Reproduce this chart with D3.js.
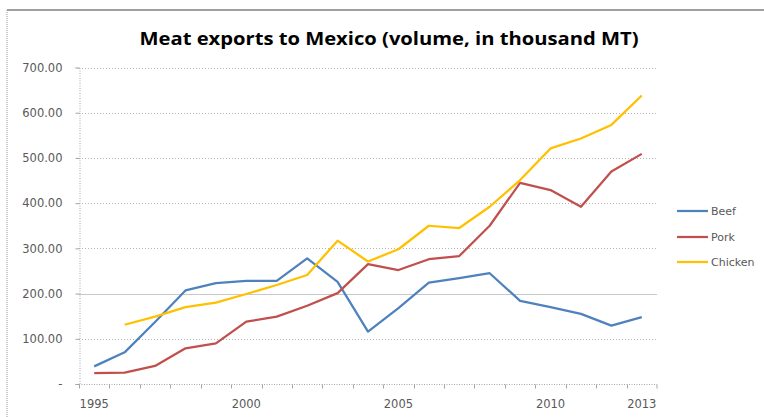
<!DOCTYPE html>
<html>
<head>
<meta charset="utf-8">
<script src="https://cdn.jsdelivr.net/npm/d3@7"></script>
<style>
  body { margin: 0; background: #fff; }
  svg { display: block; }
</style>
</head>
<body>
<div class="div-chart"></div>
<script>
// data (thousand MT)
const years = d3.range(1995, 2014);
const beef = [39, 70, 137, 207, 223, 228, 228, 278, 226, 116, 168, 224, 234, 245, 184, 170, 155, 129, 148];
const pork = [24, 25, 40, 79, 90, 138, 149, 173, 201, 265, 252, 276, 283, 350, 445, 429, 392, 470, 509];
const chicken = [null, 131, 149, 170, 180, 199, 219, 241, 317, 271, 298, 350, 345, 392, 451, 521, 543, 573, 638];
const seriesNames = ['Beef', 'Pork', 'Chicken'];
const seriesColors = ['#4F81BD', '#C0504D', '#FFC000'];
const yTicks = [0, 100, 200, 300, 400, 500, 600, 700];
const xLabels = [1995, 2000, 2005, 2010, 2013];

const width = 764, height = 417;
const svg = d3.select('.div-chart')
    .append('svg')
    .attr('width', width)
    .attr('height', height);

// frame
svg.append('line')
    .attr('x1', 7).attr('x2', width).attr('y1', 10).attr('y2', 10)
    .attr('stroke', '#a0a0a0').attr('stroke-width', 2);
svg.append('line')
    .attr('x1', 7).attr('x2', 7).attr('y1', 10).attr('y2', height)
    .attr('stroke', '#9a9a9a').attr('stroke-width', 1)
    .attr('stroke-dasharray', '1,1');

// title
svg.append('text')
    .attr('x', 389).attr('y', 45)
    .attr('text-anchor', 'middle')
    .attr('font-family', 'Open Sans, sans-serif')
    .attr('font-weight', 'bold')
    .attr('font-size', 18)
    .attr('textLength', 499)
    .attr('lengthAdjust', 'spacingAndGlyphs')
    .attr('fill', '#000')
    .text('Meat exports to Mexico (volume, in thousand MT)');

const xScale = d3.scaleBand()
    .domain(years)
    .range([79, 657]);

const yScale = d3.scaleLinear()
    .domain([0, 700])
    .range([384, 67.5]);

const cx = y => xScale(y) + xScale.bandwidth() / 2;

// gridlines
svg.append('g')
    .selectAll('line')
    .data(yTicks.filter(d => d > 0))
    .join('line')
    .attr('x1', 79).attr('x2', 657)
    .attr('y1', d => Math.round(yScale(d)) + 0.5)
    .attr('y2', d => Math.round(yScale(d)) + 0.5)
    .attr('stroke', d => d === 200 ? '#c8c8c8' : '#b4b4b4')
    .attr('stroke-dasharray', d => d === 200 ? null : '1,2');

// y axis
const yAxis = svg.append('g')
    .attr('transform', 'translate(79.5,0)')
    .call(d3.axisLeft(yScale)
        .tickValues(yTicks)
        .tickSize(4)
        .tickPadding(13)
        .tickFormat(d => d === 0 ? '-' : d3.format('.2f')(d)));
yAxis.select('.domain').attr('stroke', '#a6a6a6').attr('stroke-dasharray', '1,1.5');
yAxis.selectAll('.tick line').attr('stroke', '#a6a6a6');
yAxis.selectAll('text')
    .attr('font-family', 'DejaVu Sans, sans-serif')
    .attr('font-size', 11.5)
    .attr('fill', '#595959');

// x axis: tick marks between categories, labels on a few years
const xAxisG = svg.append('g')
    .attr('transform', 'translate(0,384.5)');
xAxisG.append('line')
    .attr('x1', 79).attr('x2', 657)
    .attr('stroke', '#a6a6a6').attr('stroke-dasharray', '1,1.5');
xAxisG.selectAll('.tk')
    .data(years.concat([2014]))
    .join('line')
    .attr('class', 'tk')
    .attr('x1', d => d === 2014 ? 657 : Math.round(xScale(d)) + 0.5)
    .attr('x2', d => d === 2014 ? 657 : Math.round(xScale(d)) + 0.5)
    .attr('y1', 0).attr('y2', 4)
    .attr('stroke', '#a6a6a6');
xAxisG.selectAll('.lbl')
    .data(xLabels)
    .join('text')
    .attr('class', 'lbl')
    .attr('x', d => cx(d))
    .attr('y', 23)
    .attr('text-anchor', 'middle')
    .attr('font-family', 'DejaVu Sans, sans-serif')
    .attr('font-size', 11.5)
    .attr('fill', '#595959')
    .text(d => d);

// lines
const allSeries = [beef, pork, chicken];
const line = d3.line()
    .defined(d => d.v != null)
    .x(d => cx(d.year))
    .y(d => yScale(d.v));

svg.append('g')
    .selectAll('path')
    .data(allSeries)
    .join('path')
    .attr('d', s => line(years.map((y, i) => ({ year: y, v: s[i] }))))
    .attr('fill', 'none')
    .attr('stroke', (d, i) => seriesColors[i])
    .attr('stroke-width', 2.25)
    .attr('stroke-linejoin', 'round');

// legend
const legendY = [211, 237, 262];
const legend = svg.append('g')
    .selectAll('g')
    .data(seriesNames)
    .join('g')
    .attr('transform', (d, i) => `translate(677,${legendY[i]})`);
legend.append('line')
    .attr('x1', 0).attr('x2', 31)
    .attr('stroke', (d, i) => seriesColors[i])
    .attr('stroke-width', 2.25);
legend.append('text')
    .attr('x', 34)
    .attr('dy', '0.35em')
    .attr('font-family', 'DejaVu Sans, sans-serif')
    .attr('font-size', 11)
    .attr('fill', '#595959')
    .text(d => d);
</script>
</body>
</html>
